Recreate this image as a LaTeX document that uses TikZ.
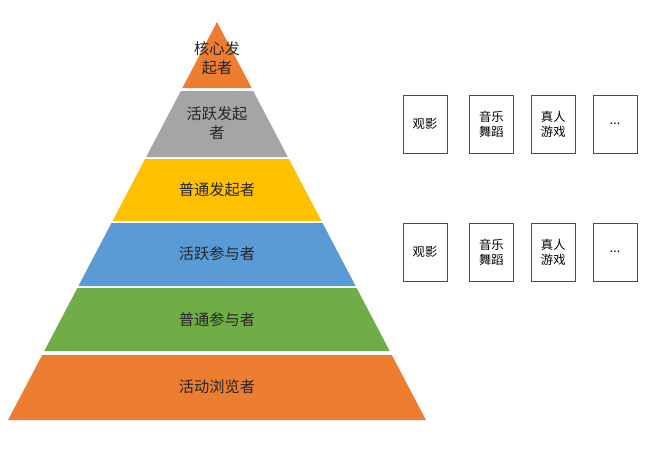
\documentclass[tikz,border=0pt]{standalone}
\usepackage{fontspec}
\setmainfont{Noto Sans CJK SC}
\usetikzlibrary{positioning}
\definecolor{cOrange}{RGB}{237,125,49}
\definecolor{cGray}{RGB}{165,165,165}
\definecolor{cYellow}{RGB}{255,192,0}
\definecolor{cBlue}{RGB}{91,155,213}
\definecolor{cGreen}{RGB}{112,173,71}
\tikzset{
  band/.style={draw=none},
  lbl/.style={font=\fontsize{13}{16}\selectfont, align=center, text=black!85},
  cat/.style={draw=black!70, minimum width=1.32cm, minimum height=1.74cm,
              font=\fontsize{10.5}{13}\selectfont, align=center, inner sep=1pt},
}
\newcommand{\band}[3]{% y1, y2, colour
  \fill[#3] ({217-(#1-22)*0.525},#1) -- ({217+(#1-22)*0.525},#1)
        -- ({217+(#2-22)*0.525},#2) -- ({217-(#2-22)*0.525},#2) -- cycle;}
\begin{document}
\begin{tikzpicture}[x=0.03cm, y=-0.03cm]
  \useasboundingbox (0,0) rectangle (670,449);
  \band{22}{88}{cOrange}
  \band{91}{157}{cGray}
  \band{159}{221}{cYellow}
  \band{223}{286}{cBlue}
  \band{288}{351}{cGreen}
  \band{355}{420}{cOrange}

  \node[lbl] (core)  at (217,58)  {核心发\\起者};
  \node[lbl] (act1)  at (217,123) {活跃发起\\者};
  \node[lbl] (init)  at (217,190) {普通发起者};
  \node[lbl] (act2)  at (217,254) {活跃参与者};
  \node[lbl] (part)  at (217,320) {普通参与者};
  \node[lbl] (brow)  at (217,387) {活动浏览者};

  \node[cat] (a1) at (425,124) {观影};
  \node[cat, right=0.66cm of a1] (a2) {音乐\\舞蹈};
  \node[cat, right=0.52cm of a2] (a3) {真人\\游戏};
  \node[cat, right=0.52cm of a3] (a4) {...};

  \node[cat] (b1) at (425,252) {观影};
  \node[cat, right=0.66cm of b1] (b2) {音乐\\舞蹈};
  \node[cat, right=0.52cm of b2] (b3) {真人\\游戏};
  \node[cat, right=0.52cm of b3] (b4) {...};
\end{tikzpicture}
\end{document}
